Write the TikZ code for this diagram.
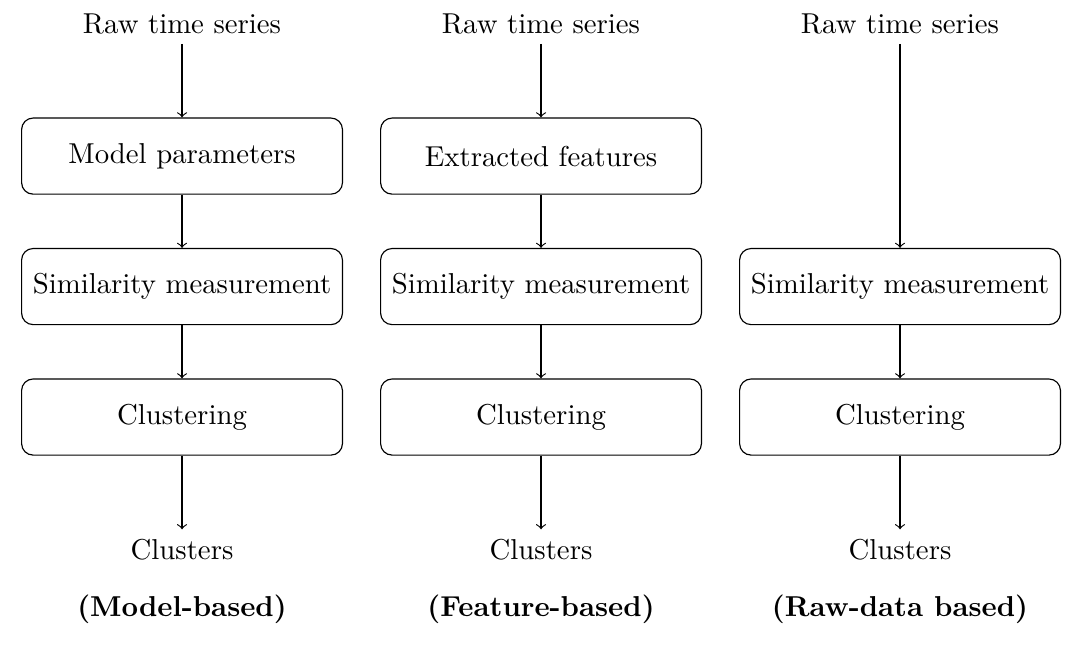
\documentclass[tikz,border=0pt]{standalone}
\usepackage{tikz}
\usetikzlibrary{positioning,calc}

\begin{document}
\begin{tikzpicture}[
  node distance=0.65cm,
  stage/.style={draw, rounded corners, minimum width=3.92cm, minimum height=0.93cm, align=center, inner sep=2pt},
  method/.style={font=\bfseries},
  arrow/.style={->}
]
% model-based
\node (raw1) at (0,0) {Raw time series};
\node[stage, below=0.9cm of raw1] (mod1) {Model parameters};
\node[stage, below=of mod1] (sim1) {Similarity measurement};
\node[stage, below=of sim1] (clu1) {Clustering};
\node[below=0.9cm of clu1] (out1) {Clusters};
\node[method, below=0.17cm of out1] (lab1) {(Model-based)};

% feature-based
\node (raw2) at (4.386,0) {Raw time series};
\node[stage, below=0.9cm of raw2] (feat2) {Extracted features};
\node[stage, below=of feat2] (sim2) {Similarity measurement};
\node[stage, below=of sim2] (clu2) {Clustering};
\node[below=0.9cm of clu2] (out2) {Clusters};
\node[method, below=0.17cm of out2] (lab2) {(Feature-based)};

% raw-data based
\node (raw3) at (8.772,0) {Raw time series};
\node[stage] (sim3) at (raw3 |- sim1) {Similarity measurement};
\node[stage, below=of sim3] (clu3) {Clustering};
\node[below=0.9cm of clu3] (out3) {Clusters};
\node[method, below=0.17cm of out3] (lab3) {(Raw-data based)};

\draw[arrow] (raw1) -- (mod1);
\draw[arrow] (mod1) -- (sim1);
\draw[arrow] (sim1) -- (clu1);
\draw[arrow] (clu1) -- (out1);
\draw[arrow] (raw2) -- (feat2);
\draw[arrow] (feat2) -- (sim2);
\draw[arrow] (sim2) -- (clu2);
\draw[arrow] (clu2) -- (out2);
\draw[arrow] (raw3) -- (sim3);
\draw[arrow] (sim3) -- (clu3);
\draw[arrow] (clu3) -- (out3);

\path[use as bounding box] ($(raw1.base)+(-2.224,0.403)$) rectangle ($(lab3.base)+(2.15,-0.39)$);
\end{tikzpicture}
\end{document}
